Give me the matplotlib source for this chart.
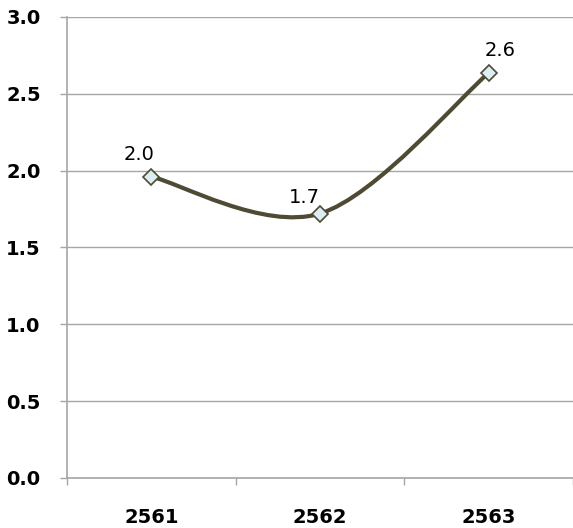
import matplotlib.pyplot as plt
from matplotlib.path import Path
from matplotlib.patches import PathPatch

# -------------------------------
# Dati
# -------------------------------
anni = ['2561', '2562', '2563']
valori = [1.96, 1.72, 2.635]
etichette = ['2.0', '1.7', '2.6']
y_ticks = [0, 0.5, 1.0, 1.5, 2.0, 2.5, 3.0]

colore_linea = '#4F4A33'
colore_marker = '#DAEEF3'
colore_griglia = '#A6A6A6'

plt.rcParams['font.weight'] = 'bold'
plt.rcParams['xtick.labelsize'] = 14
plt.rcParams['ytick.labelsize'] = 14

fig = plt.figure(figsize=(5.73, 5.28), dpi=100)
ax = fig.add_axes([0.117, 0.095, 0.883, 0.873])

x = list(range(len(anni)))

# curva smussata stile Excel (bezier cardinale)
pts = list(zip(x, valori))
verts = [pts[0]]
codes = [Path.MOVETO]
for i in range(len(pts) - 1):
    p0 = pts[i - 1] if i > 0 else pts[i]
    p1 = pts[i]
    p2 = pts[i + 1]
    p3 = pts[i + 2] if i + 2 < len(pts) else pts[i + 1]
    c1 = (p1[0] + (p2[0] - p0[0]) / 6, p1[1] + (p2[1] - p0[1]) / 6)
    c2 = (p2[0] - (p3[0] - p1[0]) / 6, p2[1] - (p3[1] - p1[1]) / 6)
    verts += [c1, c2, p2]
    codes += [Path.CURVE4] * 3
ax.add_patch(PathPatch(Path(verts, codes), facecolor='none', edgecolor=colore_linea,
                       linewidth=3, capstyle='round', zorder=3))

ax.plot(x, valori, linestyle='none', marker='D', markersize=8.5,
        markerfacecolor=colore_marker, markeredgecolor=colore_linea,
        markeredgewidth=1.2, zorder=4)

# spostamenti etichette (punti)
offset_x = [-9, -11, 8]
offset_y = [9, 5, 9]
for xi, yi, lab, dx, dy in zip(x, valori, etichette, offset_x, offset_y):
    ax.annotate(lab, (xi, yi), xytext=(dx, dy), textcoords='offset points',
                ha='center', va='bottom', fontsize=14, fontweight='normal', color='black')

ax.set_xlim(-0.5, 2.5)
ax.set_ylim(0, 3.0)
ax.set_yticks(y_ticks)
ax.set_yticklabels([f'{v:.1f}' for v in y_ticks])
ax.set_xticks(x)
ax.set_xticklabels(anni)
ax.set_xticks([-0.5, 0.5, 1.5, 2.5], minor=True)

ax.grid(True, axis='y', color=colore_griglia, linewidth=1)
ax.set_axisbelow(True)
ax.tick_params(axis='x', which='major', length=0, pad=22)
ax.tick_params(axis='x', which='minor', length=5, color=colore_griglia, width=1, direction='out')
ax.tick_params(axis='y', length=5, color=colore_griglia, width=1, pad=14)
for lato in ['top', 'right']:
    ax.spines[lato].set_visible(False)
for lato in ['left', 'bottom']:
    ax.spines[lato].set_color(colore_griglia)
    ax.spines[lato].set_linewidth(1.2)

fig.savefig('out.png', dpi=100)
